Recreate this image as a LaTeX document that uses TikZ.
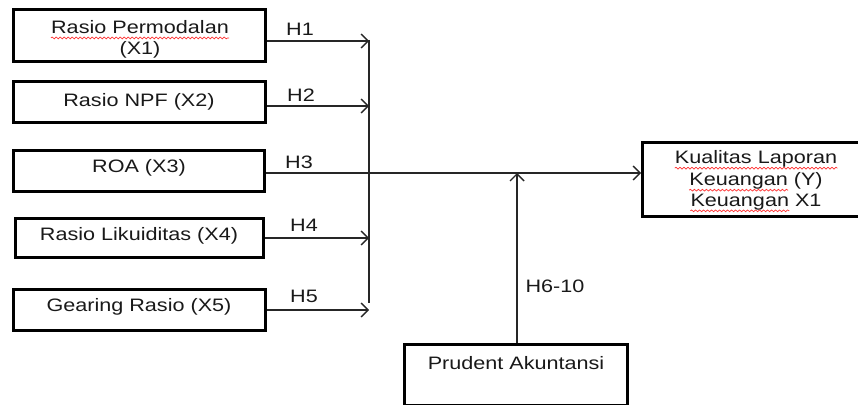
\documentclass[tikz,border=0pt]{standalone}
\usepackage{fontspec}
\setmainfont{Liberation Sans}[FakeStretch=1.2]
\usetikzlibrary{arrows.meta,decorations.pathmorphing}
\begin{document}
\begin{tikzpicture}[x=1pt,y=-1pt,
  txt/.style={font=\fontsize{18}{21.6}\selectfont, inner sep=0pt, text=black!90},
  box/.style={draw, line width=3pt, inner sep=0pt},
  conn/.style={line width=1.4pt, draw=black!85},
  arr/.style={conn, -{Straight Barb[length=7pt,width=14pt,line width=1.4pt]}},
  squig/.style={draw=red!80, line width=0.7pt, decorate,
    decoration={snake, amplitude=0.9pt, segment length=4pt}}]
\clip (0,0) rectangle (858,404);
\fill[white] (0,0) rectangle (858,404);
% boxes
\node[box, minimum width=252pt, minimum height=52pt] (X1) at (139.5,35.5) {};
\node[box, minimum width=252pt, minimum height=41pt] (X2) at (139.5,102) {};
\node[box, minimum width=251pt, minimum height=41pt] (X3) at (139,171) {};
\node[box, minimum width=248pt, minimum height=39pt] (X4) at (139.5,238) {};
\node[box, minimum width=252pt, minimum height=41pt] (X5) at (139.5,310) {};
\node[box, minimum width=229pt, minimum height=74pt] (Y) at (757,179.5) {};
\node[box, minimum width=223pt, minimum height=61pt] (P) at (516,375) {};
% texts
\node[txt] (x1a) at (140,27) {Rasio Permodalan};
\node[txt] (x1b) at (140,50) {(X1)};
\node[txt] (x2t) at (139,102) {Rasio NPF (X2)};
\node[txt] (x3t) at (139,168) {ROA (X3)};
\node[txt] (x4t) at (139,236) {Rasio Likuiditas (X4)};
\node[txt] (x5t) at (139,307) {Gearing Rasio (X5)};
\node[txt] (y1) at (756,159) {Kualitas Laporan};
\node[txt] (y2) at (756,181) {Keuangan (Y)};
\node[txt] (y3) at (756,202) {Keuangan X1};
\node[txt, anchor=base west] (y2w) at (y2.base west) {\phantom{Keuangan}};
\node[txt, anchor=base west] (y3w) at (y3.base west) {\phantom{Keuangan}};
\node[txt] (pt) at (516,363) {Prudent Akuntansi};
% squiggles
\draw[squig] ([yshift=-4.5pt]x1a.base west) -- ([yshift=-4.5pt]x1a.base east);
\draw[squig] ([yshift=-4.5pt]y1.base west) -- ([yshift=-4.5pt]y1.base east);
\draw[squig] ([yshift=-4.5pt]y2w.base west) -- ([yshift=-4.5pt]y2w.base east);
\draw[squig] ([yshift=-4.5pt]y3w.base west) -- ([yshift=-4.5pt]y3w.base east);
% junction coordinates
\coordinate (h1) at (369,41);
\coordinate (h2) at (369,106);
\coordinate (h4) at (369,238);
\coordinate (h5) at (369,310);
\coordinate (vtop) at (369,40);
\coordinate (vbot) at (369,303);
\coordinate (j3) at (517,173);
% connectors
\draw[conn] (vtop) -- (vbot);
\draw[arr] (X1.east |- h1) -- (h1);
\draw[arr] (X2.east |- h2) -- (h2);
\draw[arr] (X4.east |- h4) -- (h4);
\draw[arr] (X5.east |- h5) -- (h5);
\draw[arr] (X3.east |- j3) -- (Y.west |- j3);
\draw[arr] (P.north -| j3) -- (j3);
% labels
\node[txt] (l1) at (300,29) {H1};
\node[txt] (l2) at (301,95) {H2};
\node[txt] (l3) at (299,162) {H3};
\node[txt] (l4) at (304,225) {H4};
\node[txt] (l5) at (304,296) {H5};
\node[txt] (l6) at (555,286) {H6-10};
\end{tikzpicture}
\end{document}
